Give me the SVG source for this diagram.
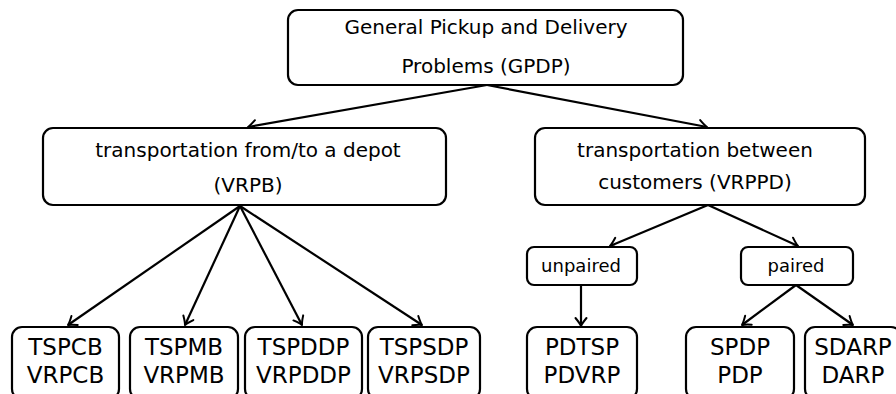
<svg xmlns="http://www.w3.org/2000/svg" width="896" height="394" viewBox="0 0 896 394">
<style>
.box{fill:#fff;stroke:#000;stroke-width:2.2}
.t{font-family:"DejaVu Sans",sans-serif;fill:#000;text-anchor:middle}
.t20{font-size:20px}
.t18{font-size:18px}
.t23{font-size:23px}
.c{fill:none;stroke:#000;stroke-width:2.2;marker-end:url(#arr)}
</style>
<defs>
<marker id="arr" markerUnits="userSpaceOnUse" markerWidth="16" markerHeight="16" refX="0" refY="0" viewBox="-10 -8 12 16" orient="auto" overflow="visible">
<path d="M-8,-5.5 Q-2.5,-1 0,0 Q-2.5,1 -8,5.5" fill="none" stroke="#000" stroke-width="2" stroke-linecap="round" stroke-linejoin="round"/>
</marker>
</defs>
<rect width="896" height="394" fill="#fff"/>
<g id="connectors">
<line class="c" x1="487" y1="85" x2="248" y2="127"/>
<line class="c" x1="487" y1="85" x2="707" y2="127"/>
<line class="c" x1="240" y1="206" x2="68" y2="325"/>
<line class="c" x1="240" y1="206" x2="185" y2="325"/>
<line class="c" x1="240" y1="206" x2="302" y2="325"/>
<line class="c" x1="240" y1="206" x2="422" y2="325"/>
<line class="c" x1="708" y1="205" x2="610" y2="246"/>
<line class="c" x1="708" y1="205" x2="798" y2="246"/>
<line class="c" x1="581" y1="285" x2="581" y2="326"/>
<line class="c" x1="796" y1="285" x2="742" y2="325"/>
<line class="c" x1="796" y1="285" x2="853" y2="325"/>
</g>
<g id="gpdp">
<rect class="box" x="288" y="10" width="395" height="75" rx="10"/>
<text class="t t20" x="486" y="34">General Pickup and Delivery</text>
<text class="t t20" x="486" y="73">Problems (GPDP)</text>
</g>
<g id="vrpb">
<rect class="box" x="43" y="128" width="403" height="77" rx="10"/>
<text class="t t20" x="248" y="157">transportation from/to a depot</text>
<text class="t t20" x="248" y="192">(VRPB)</text>
</g>
<g id="vrppd">
<rect class="box" x="535" y="128" width="330" height="77" rx="10"/>
<text class="t t20" x="695" y="157">transportation between</text>
<text class="t t20" x="695" y="189">customers (VRPPD)</text>
</g>
<g id="unpaired">
<rect class="box" x="527" y="247" width="110" height="38" rx="7"/>
<text class="t t18" x="581" y="272">unpaired</text>
</g>
<g id="paired">
<rect class="box" x="741" y="247" width="112" height="38" rx="7"/>
<text class="t t18" x="796" y="272">paired</text>
</g>
<g id="tspcb">
<rect class="box" x="12" y="327" width="107" height="72" rx="10"/>
<text class="t t23" x="65.5" y="355">TSPCB</text>
<text class="t t23" x="65.5" y="383">VRPCB</text>
</g>
<g id="tspmb">
<rect class="box" x="130" y="327" width="108" height="72" rx="10"/>
<text class="t t23" x="184" y="355">TSPMB</text>
<text class="t t23" x="184" y="383">VRPMB</text>
</g>
<g id="tspddp">
<rect class="box" x="245" y="327" width="117" height="72" rx="10"/>
<text class="t t23" x="303.5" y="355">TSPDDP</text>
<text class="t t23" x="303.5" y="383">VRPDDP</text>
</g>
<g id="tspsdp">
<rect class="box" x="368" y="327" width="112" height="72" rx="10"/>
<text class="t t23" x="424" y="355">TSPSDP</text>
<text class="t t23" x="424" y="383">VRPSDP</text>
</g>
<g id="pdtsp">
<rect class="box" x="527" y="327" width="110" height="72" rx="10"/>
<text class="t t23" x="582" y="355">PDTSP</text>
<text class="t t23" x="582" y="383">PDVRP</text>
</g>
<g id="spdp">
<rect class="box" x="686" y="327" width="108" height="72" rx="10"/>
<text class="t t23" x="740" y="355">SPDP</text>
<text class="t t23" x="740" y="383">PDP</text>
</g>
<g id="sdarp">
<rect class="box" x="805" y="327" width="96" height="72" rx="10"/>
<text class="t t23" x="853" y="355">SDARP</text>
<text class="t t23" x="853" y="383">DARP</text>
</g>
</svg>
